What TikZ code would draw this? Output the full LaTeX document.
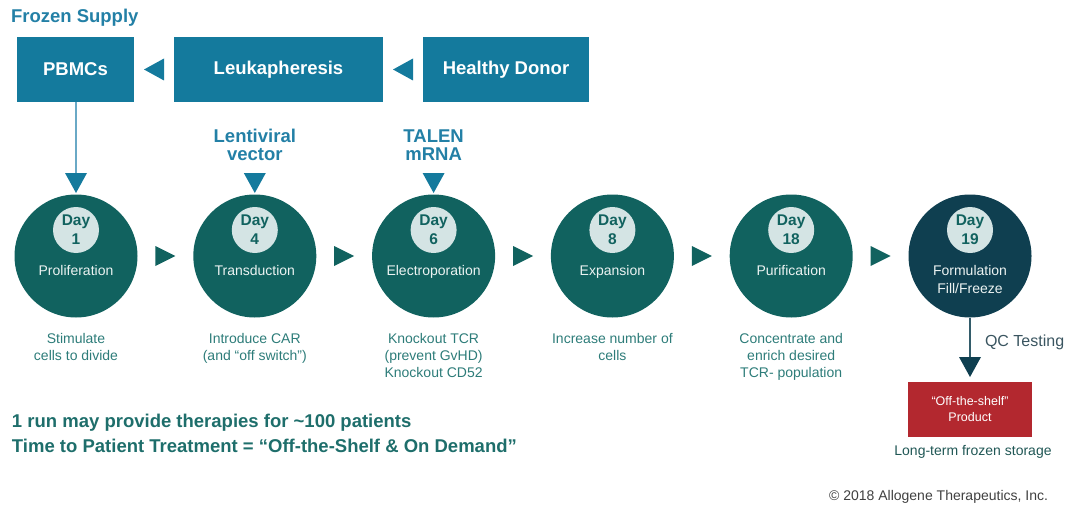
\documentclass[tikz,border=0pt]{standalone}
\usepackage{fontspec}
\setmainfont{Liberation Sans}
\usetikzlibrary{calc}

\definecolor{boxblue}{HTML}{147A9D}
\definecolor{labelblue}{HTML}{2380A6}
\definecolor{linkblue}{HTML}{6AA9C6}
\definecolor{stageteal}{HTML}{11625F}
\definecolor{stagenavy}{HTML}{0F3F50}
\definecolor{badgefill}{HTML}{D4E4E4}
\definecolor{desctext}{HTML}{2D7C79}
\definecolor{notetext}{HTML}{1E6E6B}
\definecolor{prodred}{HTML}{B3282F}
\definecolor{qctext}{HTML}{3A5560}
\definecolor{copytext}{HTML}{404040}

\tikzset{
  pics/trileft/.style={code={\fill[#1] (-10,0) -- (10,-11) -- (10,11) -- cycle;}},
  pics/triright/.style={code={\fill[#1] (10,0) -- (-10,-10) -- (-10,10) -- cycle;}},
  pics/tridown/.style={code={\fill[#1] (-11,-10) -- (11,-10) -- (0,10) -- cycle;}},
}

\begin{document}
\begin{tikzpicture}[x=1pt,y=-1pt,
  every node/.style={inner sep=0pt,outer sep=0pt},
  srcbox/.style={fill=boxblue,text=white,minimum height=65pt,
    font=\fontsize{18.5}{22}\selectfont\bfseries},
  toplabel/.style={text=labelblue,align=center,
    font=\fontsize{18.5}{18}\selectfont\bfseries},
  stagecircle/.style={circle,fill=stageteal,minimum size=123pt},
  badge/.style={circle,fill=badgefill,minimum size=46pt,text=stageteal,align=center,
    font=\fontsize{15.5}{19}\selectfont\bfseries},
  stagename/.style={text=white!92!stageteal,align=center,text depth=3pt,
    font=\fontsize{14}{18}\selectfont},
  desc/.style={text=desctext,align=center,anchor=north,
    font=\fontsize{14}{17}\selectfont},
  notebold/.style={text=notetext,anchor=west,
    font=\fontsize{18.5}{22}\selectfont\bfseries},
  linkline/.style={draw=linkblue,line width=2pt},
  qcline/.style={draw=stagenavy!85!white,line width=2pt},
]
\useasboundingbox (0,0) rectangle (1073,508);

% source chain
\node[text=labelblue,anchor=west,font=\fontsize{18.5}{22}\selectfont\bfseries]
  (frozen) at (11,18) {Frozen Supply};
\node[srcbox,minimum width=117pt] (pbmc)  at (75.5,69.5) {PBMCs};
\node[srcbox,minimum width=209pt] (leuk)  at (278.5,69.5) {Leukapheresis};
\node[srcbox,minimum width=166pt] (donor) at (506,69.5) {Healthy Donor};
\pic at ($(pbmc.east)!0.5!(leuk.west)$) {trileft=boxblue};
\pic at ($(leuk.east)!0.5!(donor.west)$) {trileft=boxblue};

% process stages
\node[stagecircle] (c1) at (76,256) {};
\node[stagecircle] (c2) at (254.8,256) {};
\node[stagecircle] (c3) at (433.6,256) {};
\node[stagecircle] (c4) at (612.4,256) {};
\node[stagecircle] (c5) at (791.2,256) {};
\node[stagecircle,fill=stagenavy] (c6) at (970,256) {};

\foreach \i/\d in {1/1,2/4,3/6,4/8,5/18,6/19}{
  \node[badge] (d\i) at ($(c\i)+(0,-26)$) {Day\\\d};
}
\node[stagename] (s1) at ($(c1)+(0,16)$) {Proliferation};
\node[stagename] (s2) at ($(c2)+(0,16)$) {Transduction};
\node[stagename] (s3) at ($(c3)+(0,16)$) {Electroporation};
\node[stagename] (s4) at ($(c4)+(0,16)$) {Expansion};
\node[stagename] (s5) at ($(c5)+(0,16)$) {Purification};
\node[stagename] (s6) at ($(c6)+(0,25)$) {Formulation\\Fill/Freeze};

\foreach \a/\b in {1/2,2/3,3/4,4/5,5/6}{
  \pic at ($(c\a.east)!0.5!(c\b.west)$) {triright=stageteal};
}

% inputs from above
\coordinate (in1) at ($(c1.north)+(0,-11.5)$);
\coordinate (in2) at ($(c2.north)+(0,-11.5)$);
\coordinate (in3) at ($(c3.north)+(0,-11.5)$);
\draw[linkline] (pbmc.south) -- (pbmc.south |- in1);
\pic at (in1) {tridown=boxblue};
\node[toplabel] (lv) at ($(c2.north)+(0,-49.5)$) {Lentiviral\\vector};
\pic at (in2) {tridown=boxblue};
\node[toplabel] (talen) at ($(c3.north)+(0,-49.5)$) {TALEN\\mRNA};
\pic at (in3) {tridown=boxblue};

% stage descriptions
\node[desc] (t1) at ($(c1.south)+(0,15.5)$) {Stimulate\\cells to divide};
\node[desc] (t2) at ($(c2.south)+(0,15.5)$) {Introduce CAR\\(and “off switch”)};
\node[desc] (t3) at ($(c3.south)+(0,15.5)$) {Knockout TCR\\(prevent GvHD)\\Knockout CD52};
\node[desc] (t4) at ($(c4.south)+(0,15.5)$) {Increase number of\\cells};
\node[desc] (t5) at ($(c5.south)+(0,15.5)$) {Concentrate and\\enrich desired\\TCR- population};

% QC and product
\coordinate (qa) at ($(c6.south)+(0,49.5)$);
\draw[qcline] (c6.south) -- ($(qa)+(0,-9)$);
\pic at (qa) {tridown=stagenavy};
\node[text=qctext,anchor=west,font=\fontsize{16}{19}\selectfont] (qc) at (985,342) {QC Testing};
\node[fill=prodred,minimum width=124pt,minimum height=55pt,text=white,align=center,
  font=\fontsize{12.5}{16}\selectfont] (prod) at (970,409.5) {“Off-the-shelf”\\Product};
\node[text=desctext!70!black,font=\fontsize{14}{17}\selectfont] (store) at (973,452) {Long-term frozen storage};

% notes
\node[notebold] (n1) at (12,423) {1 run may provide therapies for \textasciitilde100 patients};
\node[notebold] (n2) at (12,446) {Time to Patient Treatment = “Off-the-Shelf \& On Demand”};
\node[text=copytext,anchor=east,font=\fontsize{14}{17}\selectfont] (copy) at (1048,497)
  {© 2018 Allogene Therapeutics, Inc.};
\end{tikzpicture}
\end{document}
